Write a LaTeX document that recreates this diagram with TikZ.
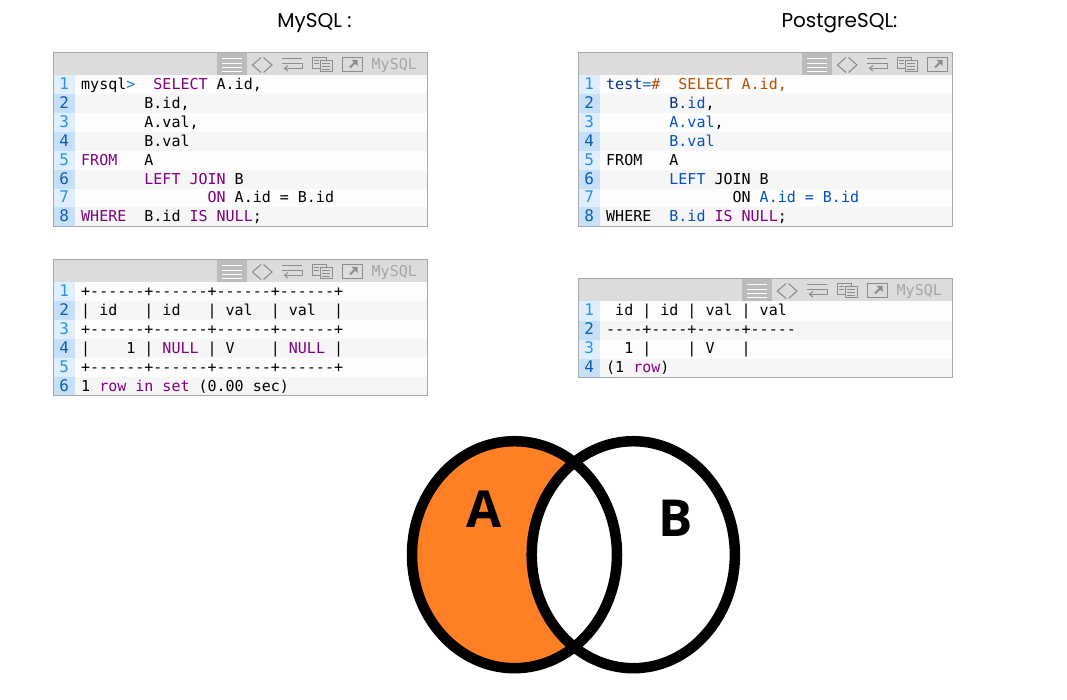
\documentclass[tikz,border=0pt]{standalone}
\usepackage{fontspec}
\setmainfont{Poppins}
\newfontfamily\codefont{DejaVu Sans Mono}
\newfontfamily\vennfont{Open Sans}
\definecolor{kw}{HTML}{800080}
\definecolor{pr}{HTML}{0A78E0}
\definecolor{nv}{HTML}{00338F}
\definecolor{bl}{HTML}{0050C8}
\definecolor{br}{HTML}{B84E00}
\definecolor{frameg}{HTML}{A8A8A8}
\definecolor{headg}{HTML}{DCDCDC}
\definecolor{btng}{HTML}{BBBBBB}
\definecolor{icong}{HTML}{8C8C8C}
\definecolor{labelg}{HTML}{A4A4A4}
\definecolor{gutodd}{HTML}{DFEFFF}
\definecolor{guteven}{HTML}{C6E0FA}
\definecolor{numodd}{HTML}{2A90EA}
\definecolor{numeven}{HTML}{0B5CB0}
\definecolor{rowodd}{HTML}{FDFDFD}
\definecolor{roweven}{HTML}{F6F6F6}
\definecolor{vennorange}{HTML}{FF7F24}
\newcommand\cK[1]{\textcolor{kw}{#1}}
\newcommand\cNv[1]{\textcolor{nv}{#1}}
\newcommand\cBl[1]{\textcolor{bl}{#1}}
\newcommand\cBr[1]{\textcolor{br}{#1}}
\newcommand\cPm[1]{\textcolor{pr}{#1}}
\tikzset{
  titletext/.style={inner sep=0pt,font=\fontsize{20}{24}\selectfont,anchor=base},
  codeline/.style={inner sep=0pt,outer sep=0pt,anchor=base west,font=\codefont\fontsize{15}{18}\selectfont,text=black},
  numline/.style={inner sep=0pt,outer sep=0pt,anchor=base,font=\codefont\fontsize{16}{18}\selectfont},
  iconline/.style={draw=icong,line width=1pt,fill=none},
  vennline/.style={draw=black,line width=10.5pt},
  vennletter/.style={inner sep=0pt,font=\vennfont\bfseries\fontsize{51}{60}\selectfont,text=black},
}
% #1 name, #2 number of rows, #3 row height, #4 button offset
\newcommand\codeframe[4]{%
  \fill[headg] (0,0) rectangle (374,23);
  \foreach \i in {1,...,#2}{%
    \pgfmathsetmacro\yt{23+(\i-1)*#3}%
    \pgfmathsetmacro\yb{23+\i*#3}%
    \pgfmathsetmacro\yn{23+(\i-1)*#3+14.3}%
    \ifodd\i
      \fill[rowodd] (0,\yt) rectangle (374,\yb);
      \fill[gutodd] (0,\yt) rectangle (21.8,\yb);
      \node[numline,text=numodd] (#1-n\i) at (10.8,\yn) {\i};
    \else
      \fill[roweven] (0,\yt) rectangle (374,\yb);
      \fill[guteven] (0,\yt) rectangle (21.8,\yb);
      \node[numline,text=numeven] (#1-n\i) at (10.8,\yn) {\i};
    \fi
  }
  \begin{scope}[shift={(#4,0)}]
    \fill[btng] (0,0) rectangle (29.7,23);
    \foreach \yy in {6.5,10.7,14.9,19}{\draw[white,line width=1pt] (5,\yy) -- (25,\yy);}
    \draw[iconline,line width=1.1pt] (44,5) -- (35.5,12.5) -- (44,20);
    \draw[iconline,line width=1.1pt] (46.5,5) -- (55,12.5) -- (46.5,20);
    \draw[iconline] (65,6.5) -- (85,6.5);
    \draw[iconline] (65,10.8) -- (85,10.8);
    \draw[iconline] (85,11) -- (85,15.8) -- (68,15.8);
    \draw[iconline] (71,13) -- (67.5,15.8) -- (71,18.6);
    \draw[iconline] (95,5) rectangle (109,16);
    \draw[iconline,fill=headg] (103,8.5) rectangle (115,19.5);
    \draw[iconline] (97,8) -- (102,8) (97,11) -- (102,11) (105,11.5) -- (113,11.5) (105,14) -- (113,14) (105,16.8) -- (113,16.8);
    \draw[iconline] (125,5) rectangle (145,19);
    \draw[iconline,line width=1.8pt] (133,15) -- (139,9);
    \fill[icong] (134.5,7.5) -- (140.5,7.5) -- (140.5,13.5) -- cycle;
  \end{scope}
}
\newcommand\codeframeborder[2]{\draw[frameg,line width=1pt] (0,0) rectangle (374,{23+#1*#2});}
\newcommand\mylabel[1]{\node[inner sep=0pt,anchor=base west,font=\codefont\fontsize{15}{18}\selectfont,text=labelg] (#1-label) at (318,17) {MySQL};}
\newcommand\codel[4]{\pgfmathsetmacro\yn{23+(#2-1)*#3+14.3}\node[codeline] (#1-l#2) at (27.7,\yn) {#4};}
\begin{document}
\begin{tikzpicture}[x=1pt,y=-1pt]
\useasboundingbox (0,0) rectangle (1067,700);
\fill[white] (0,0) rectangle (1067,700);
\node[titletext] (titleMy) at (314.5,27.5) {MySQL :};
\node[titletext] (titlePg) at (839.5,27.5) {PostgreSQL:};

\begin{scope}[shift={(53.5,52.5)}]
\codeframe{a}{8}{18.85}{163.5}
\mylabel{a}
\codel{a}{1}{18.85}{mysql\cPm{>}~~\cK{SELECT}~A.id,}
\codel{a}{2}{18.85}{~~~~~~~B.id,}
\codel{a}{3}{18.85}{~~~~~~~A.val,}
\codel{a}{4}{18.85}{~~~~~~~B.val}
\codel{a}{5}{18.85}{\cK{FROM}~~~A}
\codel{a}{6}{18.85}{~~~~~~~\cK{LEFT~JOIN}~B}
\codel{a}{7}{18.85}{~~~~~~~~~~~~~~\cK{ON}~A.id~=~B.id}
\codel{a}{8}{18.85}{\cK{WHERE}~~B.id~\cK{IS~NULL};}
\codeframeborder{8}{18.85}
\end{scope}

\begin{scope}[shift={(578.5,52.5)}]
\codeframe{b}{8}{18.85}{223.5}
\codel{b}{1}{18.85}{\cNv{test}\cPm{=}\cBr{\#}~~\cBr{SELECT~A.id,}}
\codel{b}{2}{18.85}{~~~~~~~\cNv{B.}\cBl{id},}
\codel{b}{3}{18.85}{~~~~~~~\cBl{A.val},}
\codel{b}{4}{18.85}{~~~~~~~\cBl{B.val}}
\codel{b}{5}{18.85}{FROM~~~A}
\codel{b}{6}{18.85}{~~~~~~~\cBl{LEFT}~JOIN~B}
\codel{b}{7}{18.85}{~~~~~~~~~~~~~~ON~\cBl{A.id~=~B.id}}
\codel{b}{8}{18.85}{WHERE~~\cBl{B.id}~\cK{IS~NULL};}
\codeframeborder{8}{18.85}
\end{scope}

\begin{scope}[shift={(53.5,259.5)}]
\codeframe{c}{6}{18.85}{163.5}
\mylabel{c}
\codel{c}{1}{18.85}{+{-}{-}{-}{-}{-}{-}+{-}{-}{-}{-}{-}{-}+{-}{-}{-}{-}{-}{-}+{-}{-}{-}{-}{-}{-}+}
\codel{c}{2}{18.85}{|~id~~~|~id~~~|~val~~|~val~~|}
\codel{c}{3}{18.85}{+{-}{-}{-}{-}{-}{-}+{-}{-}{-}{-}{-}{-}+{-}{-}{-}{-}{-}{-}+{-}{-}{-}{-}{-}{-}+}
\codel{c}{4}{18.85}{|~~~~1~|~\cK{NULL}~|~V~~~~|~\cK{NULL}~|}
\codel{c}{5}{18.85}{+{-}{-}{-}{-}{-}{-}+{-}{-}{-}{-}{-}{-}+{-}{-}{-}{-}{-}{-}+{-}{-}{-}{-}{-}{-}+}
\codel{c}{6}{18.85}{1~\cK{row~in~set}~(0.00~sec)}
\codeframeborder{6}{18.85}
\end{scope}

\begin{scope}[shift={(578.5,278.5)}]
\codeframe{d}{4}{19}{163.5}
\mylabel{d}
\codel{d}{1}{19}{~id~|~id~|~val~|~val}
\codel{d}{2}{19}{{-}{-}{-}{-}+{-}{-}{-}{-}+{-}{-}{-}{-}{-}+{-}{-}{-}{-}{-}}
\codel{d}{3}{19}{~~1~|~~~~|~V~~~|}
\codel{d}{4}{19}{(1~\cK{row})}
\codeframeborder{4}{19}
\end{scope}

% Venn diagram
\fill[vennorange] (514.5,554.7) ellipse [x radius=102.5,y radius=113.5];
\fill[white] (633.3,554.7) ellipse [x radius=101.6,y radius=113.5];
\draw[vennline] (514.5,554.7) ellipse [x radius=102.5,y radius=113.5];
\draw[vennline] (633.3,554.7) ellipse [x radius=101.6,y radius=113.5];
\node[vennletter] (letterA) at (484.5,509) {A};
\node[vennletter] (letterB) at (675.5,518.5) {B};
\end{tikzpicture}
\end{document}
